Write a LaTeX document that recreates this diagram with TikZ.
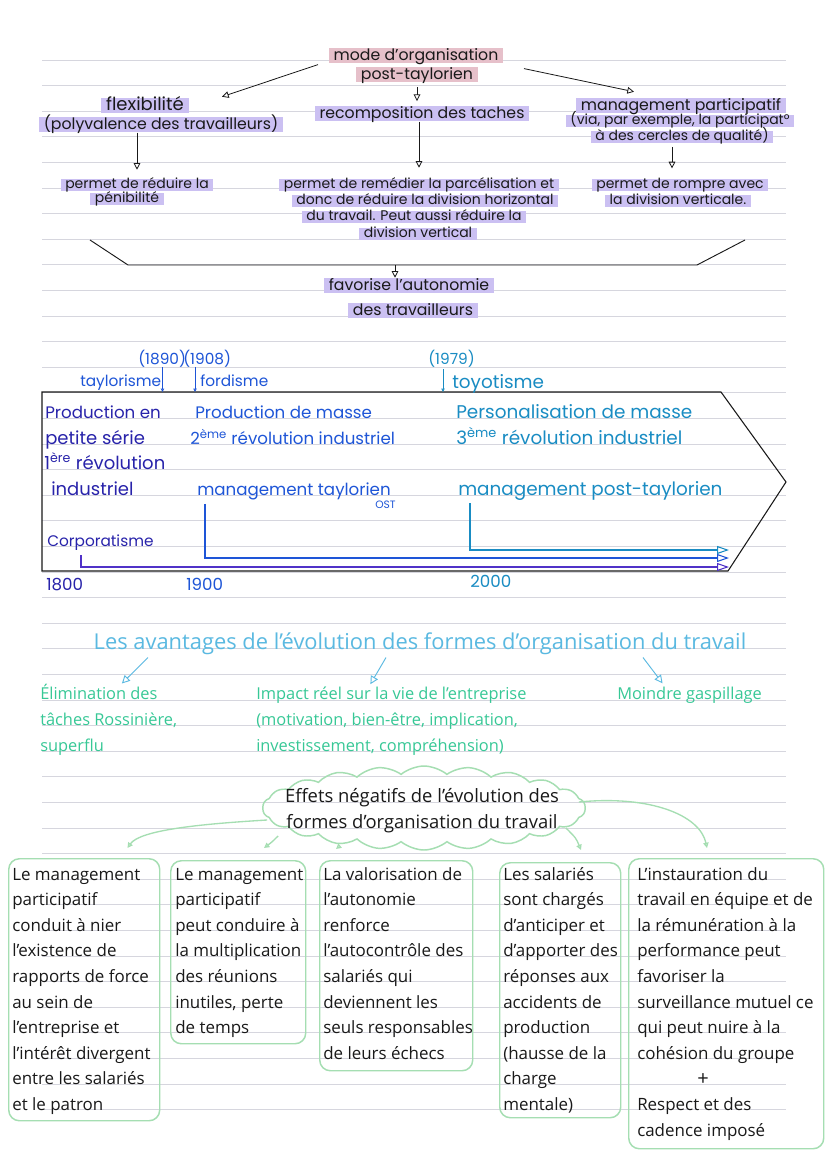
\documentclass[tikz,border=0pt]{standalone}
\usepackage{fontspec}
\setmainfont{Open Sans}
\newfontfamily\handfont{Poppins}
\usetikzlibrary{arrows.meta,shapes.symbols}
\definecolor{rulec}{RGB}{214,214,222}
\definecolor{hlp}{RGB}{203,192,242}
\definecolor{hlpink}{RGB}{230,192,202}
\definecolor{navy}{RGB}{40,35,170}
\definecolor{tblue}{RGB}{30,85,215}
\definecolor{tcyan}{RGB}{25,140,195}
\definecolor{lpurple}{RGB}{80,50,200}
\definecolor{acyan}{RGB}{90,185,225}
\definecolor{agreen}{RGB}{55,200,150}
\definecolor{bgreen}{RGB}{165,222,178}
\definecolor{ink}{RGB}{25,25,25}
\begin{document}
\begin{tikzpicture}[x=0.75pt,y=-0.75pt,
  hand/.style={font=\handfont\fontsize{11.8pt}{13pt}\selectfont, text=ink, inner sep=0pt, anchor=base},
  hl/.style={hand, fill=hlp, inner xsep=3.5pt, text height=9pt, text depth=2.5pt},
  hls/.style={hl, font=\handfont\fontsize{10.5pt}{12pt}\selectfont, text height=7pt, text depth=2pt},
  tarr/.style={draw=ink, line width=0.6pt, -{Triangle[open,length=5pt,width=5pt]}},
  tl/.style={font=\handfont\fontsize{12.5pt}{14pt}\selectfont, inner sep=0pt, anchor=base west},
  tll/.style={tl, font=\handfont\fontsize{13.5pt}{15pt}\selectfont},
  tlr/.style={tl, font=\handfont\fontsize{13.8pt}{15pt}\selectfont},
  tls/.style={tl, font=\handfont\fontsize{11.5pt}{13pt}\selectfont},
  tsm/.style={line width=0.6pt, -{Triangle[open,length=2.5pt,width=2.5pt]}},
  tlong/.style={line width=0.8pt, -{Triangle[open,length=9pt,width=6pt]}},
  bt/.style={font=\fontsize{12.7pt}{14pt}\selectfont, text=ink, inner sep=0pt, anchor=base west},
  gt/.style={bt, text=agreen, font=\fontsize{12.3pt}{14pt}\selectfont},
  carr/.style={draw=acyan, line width=0.7pt, -{Triangle[open,length=6pt,width=6pt]}},
  gbox/.style={draw=bgreen, line width=1.1pt, rounded corners=8pt, inner sep=0pt, anchor=north west},
  gconn/.style={draw=bgreen, line width=1pt, -{Triangle[open,length=4pt,width=4pt]}}
]
\useasboundingbox (0,0) rectangle (828,1171);
\fill[white] (0,0) rectangle (828,1171);
% ruled lines
\foreach \k in {0,...,41}
  \draw[rulec, line width=0.75pt] (42,{60+25.6*\k}) -- (786,{60+25.6*\k});

% ---------- top section ----------
\node[hl, fill=hlpink] (t1) at (416,60) {mode d’organisation};
\node[hl, fill=hlpink] (t2) at (417,79) {post-taylorien};
\node[hl, font=\handfont\fontsize{13.5pt}{15pt}\selectfont] (f1) at (145,110) {flexibilité};
\node[hl] (f2) at (161,129) {(polyvalence des travailleurs)};
\node[hl] (r1) at (422,118) {recomposition des taches};
\node[hl] (m1) at (681,110) {management participatif};
\node[hls] (m2) at (680,124) {(via, par exemple, la participat°};
\node[hls] (m3) at (682,140) {à des cercles de qualité)};
\node[hls] (p1) at (137,188) {permet de réduire la};
\node[hls] (p2) at (127,202) {pénibilité};
\node[hls] (q1) at (419,188) {permet de remédier la parcélisation et};
\node[hls] (q2) at (425,204) {donc de réduire la division horizontal};
\node[hls] (q3) at (414,220) {du travail. Peut aussi réduire la};
\node[hls] (q4) at (418,237) {division vertical};
\node[hls] (s1) at (680,188) {permet de rompre avec};
\node[hls] (s2) at (678,204) {la division verticale.};
\node[hl] (fa1) at (409,290) {favorise l’autonomie};
\node[hl] (fa2) at (413,315) {des travailleurs};

\draw[tarr] ([shift={(-98,1)}]t1.south) -- ([shift={(77,-1)}]f1.north);
\draw[tarr] ([shift={(108,5)}]t1.south) -- ([shift={(-47,-6)}]m1.north);
\draw[tarr, shorten <=3.5pt, shorten >=3.5pt] (t2.south) -- (t2.south |- r1.north);
\draw[tarr, shorten >=6.5pt] (f2.south -| p1.north) -- (p1.north);
\draw[tarr, shorten >=8pt] (r1.south -| q1.north) -- (q1.north);
\draw[tarr] ([shift={(-10,4)}]m3.south) -- ([shift={(-8,-10)}]s1.north);
% funnel
\draw[ink, line width=0.7pt] (90,240) -- (128,265) -- (697,265) -- (745,240);
\coordinate (fm) at (395,265);
\draw[tarr] (fm) -- (fm |- fa1.north);

% ---------- timeline ----------
\coordinate (btl) at (42,392);
\coordinate (btr) at (721,392);
\coordinate (btip) at (786,482);
\coordinate (bbr) at (728,571);
\coordinate (bbl) at (42,571);
\draw[ink, line width=0.8pt] (btl) -- (btr) -- (btip) -- (bbr) -- (bbl) -- cycle;

\node[tls, text=tblue] (y1890) at (138,364) {(1890)};
\node[tls, text=tblue] (y1908) at (183,364) {(1908)};
\node[tls, text=tblue] (tay) at (80,386) {taylorisme};
\node[tls, text=tblue] (ford) at (200,386) {fordisme};
\node[tls, text=tcyan] (y1979) at (428,364) {(1979)};
\node[tlr, text=tcyan] (toy) at (452,388) {toyotisme};
\draw[tsm, tblue] ([shift={(1,0)}]tay.east |- y1890.south) -- ([shift={(1,0)}]tay.east |- btl);
\draw[tsm, tblue] ([shift={(-5,0)}]ford.west |- y1908.south) -- ([shift={(-5,0)}]ford.west |- btl);
\draw[tsm, tcyan] ([shift={(-9,2)}]toy.west |- y1979.south) -- ([shift={(-9,0)}]toy.west |- btl);

\node[tl, text=navy] (pe1) at (45,418) {Production en};
\node[tll, text=navy] (pe2) at (45,444) {petite série};
\node[tll, text=navy] (pe3) at (44,469) {1\textsuperscript{ère} révolution};
\node[tll, text=navy] (pe4) at (51,495) {industriel};
\node[tls, text=navy] (corp) at (47,546) {Corporatisme};
\node[tl, text=navy] (d1800) at (46,590) {1800};

\node[tl, text=tblue] (pm1) at (195,418) {Production de masse};
\node[tl, text=tblue] (pm2) at (190,444) {2\textsuperscript{ème} révolution industriel};
\node[tl, text=tblue] (mt) at (197,495) {management taylorien};
\node[tl, text=tblue, font=\handfont\fontsize{8pt}{9pt}\selectfont] (ost) at (375,508) {OST};
\node[tl, text=tblue] (d1900) at (186,590) {1900};

\node[tlr, text=tcyan] (ps1) at (456,418) {Personalisation de masse};
\node[tlr, text=tcyan] (ps2) at (456,444) {3\textsuperscript{ème} révolution industriel};
\node[tlr, text=tcyan] (mpt) at (458,495) {management post-taylorien};
\node[tl, text=tcyan] (d2000) at (470,587) {2000};

\draw[tlong, lpurple] ([shift={(34,5)}]corp.south west) |- ([shift={(1,-4)}]bbr);
\draw[tlong, tblue] ([shift={(8,4)}]mt.south west) |- ([shift={(1,-13)}]bbr);
\draw[tlong, tcyan] ([shift={(12,3)}]mpt.south west) |- ([shift={(1,-21)}]bbr);

% ---------- avantages ----------
\node[bt, anchor=base, text=acyan, font=\fontsize{16.4pt}{18pt}\selectfont] (av) at (420,649) {Les avantages de l’évolution des formes d’organisation du travail};
\node[gt] (e1) at (40,699) {Élimination des};
\node[gt] (e2) at (40,725) {tâches Rossinière,};
\node[gt] (e3) at (40,751) {superflu};
\node[gt] (i1) at (256,699) {Impact réel sur la vie de l’entreprise};
\node[gt] (i2) at (256,725) {(motivation, bien-être, implication,};
\node[gt] (i3) at (256,751) {investissement, compréhension)};
\node[gt] (g1) at (617,699) {Moindre gaspillage};
\draw[carr] ([shift={(-272,3)}]av.south) -- ([shift={(23,0)}]e1.north);
\draw[carr] ([shift={(-34,3)}]av.south) -- ([shift={(-21,-2)}]i1.north);
\draw[carr] ([shift={(223,3)}]av.south) -- ([shift={(-27,-3)}]g1.north);

% ---------- effets negatifs ----------
\node[cloud, draw=bgreen, line width=1.1pt, cloud puffs=22, cloud puff arc=80, cloud ignores aspect,
      minimum width=242pt, minimum height=63pt, inner sep=0pt] (cloud) at (424,808) {};
\node[bt, anchor=base, font=\fontsize{13.8pt}{16pt}\selectfont] (ef1) at (422,802) {Effets négatifs de l’évolution des};
\node[bt, anchor=base, font=\fontsize{13.8pt}{16pt}\selectfont] (ef2) at (422,828) {formes d’organisation du travail};

\node[gbox, minimum width=113.25pt, minimum height=196.5pt] (bx1) at (8,858) {};
\node[gbox, minimum width=101.25pt, minimum height=137.25pt] (bx2) at (170,860) {};
\node[gbox, minimum width=114.75pt, minimum height=157.5pt] (bx3) at (319,860) {};
\node[gbox, minimum width=90.75pt, minimum height=191.25pt] (bx4) at (499,862) {};
\node[gbox, minimum width=146.25pt, minimum height=217.5pt] (bx5) at (628,858) {};

\draw[gconn] ([shift={(5,12)}]cloud.west) .. controls (200,824) and (140,830) .. ([shift={(-33,-10)}]bx1.north east);
\draw[gconn] ([shift={(16,28)}]cloud.west) .. controls (272,842) .. ([shift={(94,-12)}]bx2.north west);
\draw[gconn] ([shift={(-84,-5)}]cloud.south) -- ([shift={(17,-11)}]bx3.north west);
\draw[gconn] ([shift={(-20,20)}]cloud.east) .. controls (576,838) .. ([shift={(82,-12)}]bx4.north west);
\draw[gconn] ([shift={(-7,-6)}]cloud.east) .. controls (650,795) and (700,815) .. ([shift={(79,-10)}]bx5.north west);

\foreach \t [count=\i from 0] in {Le management, participatif, conduit à nier, l’existence de, rapports de force, au sein de, l’entreprise et, l’intérêt divergent, entre les salariés, et le patron}
  \node[bt] (ba-\i) at (12,{880+25.6*\i}) {\t};
\foreach \t [count=\i from 0] in {Le management, participatif, peut conduire à, la multiplication, des réunions, {inutiles, perte}, de temps}
  \node[bt] (bb-\i) at (175,{880+25.6*\i}) {\t};
\foreach \t [count=\i from 0] in {La valorisation de, l’autonomie, renforce, l’autocontrôle des, salariés qui, deviennent les, seuls responsables, de leurs échecs}
  \node[bt] (bc-\i) at (323,{880+25.6*\i}) {\t};
\foreach \t [count=\i from 0] in {Les salariés, sont chargés, d’anticiper et, d’apporter des, réponses aux, accidents de, production, {(hausse de la}, charge, {mentale)}}
  \node[bt] (bd-\i) at (503,{880+25.6*\i}) {\t};
\foreach \t [count=\i from 0] in {L’instauration du, travail en équipe et de, la rémunération à la, performance peut, favoriser la, surveillance mutuel ce, qui peut nuire à la, cohésion du groupe}
  \node[bt] (be-\i) at (637,{880+25.6*\i}) {\t};
\node[bt, anchor=base, font=\fontsize{15pt}{16pt}\selectfont] (plus) at (703,1085) {+};
\node[bt] (be-9) at (637,1110) {Respect et des};
\node[bt] (be-10) at (637,1136) {cadence imposé};
\end{tikzpicture}
\end{document}
